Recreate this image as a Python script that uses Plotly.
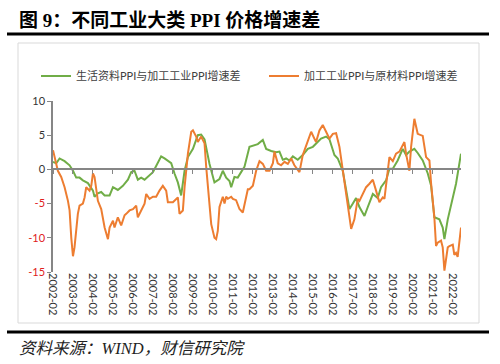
import plotly.graph_objects as go

# ---- data (month offsets from 2002-02, values in percentage points) ----
green_month = [0,2,4,7,10,12,14,16,18,21,24,25,27,29,31,34,36,39,42,45,
               47,49,51,53,55,57,60,62,65,67,69,71,73,75,77,79,81,84,87,89,
               91,94,97,100,102,104,106,107,109,111,113,115,118,120,123,126,128,131,134,136,
               138,140,142,144,147,150,153,156,158,161,164,166,169,171,174,176,178,180,182,184,
               187,189,192,195,197,200,202,204,207,210,212,214,217,219,222,225,227,229,232,234,
               235,237,238,240,242,245]
green_vals = [1.1,0.9,1.6,1.2,0.6,-0.2,-1.2,-1.2,-1.6,-2.0,-3.1,-4.0,-3.5,-3.3,-3.8,-3.8,-2.6,-3.0,-2.4,-1.5,
              -0.4,-0.2,-1.5,-1.2,-1.5,-1.1,-0.4,0.5,1.9,1.6,1.3,0.9,-0.6,-1.9,-3.8,-0.2,1.8,3.0,5.0,5.1,
              4.4,0.8,-1.9,-1.4,-0.2,-1.2,-1.7,-2.6,-1.1,-1.2,-0.4,0.4,3.3,3.5,3.7,4.3,3.0,2.7,2.5,2.6,
              1.4,1.6,1.3,1.9,1.4,2.1,3.0,3.3,3.8,4.5,4.8,4.4,2.1,1.6,-0.2,-3.1,-5.8,-5.0,-4.2,-5.5,
              -6.8,-5.5,-3.6,-4.2,-2.6,-1.6,0.1,0.1,1.3,3.0,2.1,2.6,3.0,2.4,1.3,-0.6,-2.4,-7.0,-7.3,-8.5,
              -10.2,-7.3,-6.3,-4.3,-2.1,2.3]

orange_month = [0,1,3,5,7,9,10,11,12,13,15,16,18,19,20,22,23,24,25,27,
                29,31,33,34,36,37,39,41,43,44,46,48,50,51,53,55,56,58,60,62,
                64,66,68,69,72,75,76,78,79,81,83,84,86,87,89,91,92,94,95,97,
                98,99,100,102,103,104,105,107,108,110,112,114,115,117,118,120,122,124,126,128,
                130,132,133,135,137,139,141,143,145,148,150,152,155,157,158,160,162,164,166,168,
                170,172,174,176,178,179,181,183,184,186,188,190,192,194,196,198,199,201,202,204,
                206,208,211,212,214,215,217,219,222,224,226,227,229,230,231,233,234,235,237,238,
                240,241,242,243,245]
orange_vals = [2.8,1.8,-0.2,-1.1,-2.6,-4.6,-6.0,-10.0,-12.7,-11.4,-6.5,-5.3,-5.0,-4.1,-2.6,-3.1,-2.4,-0.6,-1.1,-4.6,
               -5.8,-8.5,-10.2,-8.5,-7.5,-8.5,-7.0,-8.2,-6.7,-6.5,-6.0,-5.8,-5.3,-7.0,-6.0,-5.0,-3.6,-4.3,-4.0,-4.0,
               -3.1,-2.4,-3.1,-4.8,-4.8,-4.1,-6.5,-6.0,-2.6,2.3,5.5,5.7,4.8,4.0,4.8,3.8,0.4,-4.6,-8.0,-10.0,
               -10.2,-9.0,-5.5,-4.0,-5.0,-4.0,-4.3,-4.0,-4.3,-4.5,-5.8,-6.3,-5.3,-2.9,-2.9,-2.4,-0.2,1.2,0.8,-0.2,
               -0.2,0.9,2.6,0.9,0.6,1.1,0.8,1.6,0.6,-0.4,2.1,3.5,5.5,4.5,4.0,5.7,6.5,5.5,4.5,5.2,
               5.3,3.3,-0.2,-4.1,-7.0,-8.7,-7.3,-4.3,-4.6,-3.6,-2.6,-2.1,-1.5,-3.1,-4.8,-4.1,-4.3,-0.2,1.8,1.2,
               2.3,2.6,4.0,2.3,-0.2,3.3,7.4,5.2,4.9,1.8,1.3,-2.1,-7.0,-11.2,-10.7,-10.4,-11.4,-14.8,-11.4,-11.2,
               -11.0,-12.5,-12.2,-12.8,-8.5]

series_names = ["生活资料PPI与加工工业PPI增速差", "加工工业PPI与原材料PPI增速差"]
tick_years = list(range(2002, 2023))
y_ticks = [-15, -10, -5, 0, 5, 10]

assert len(green_month) == len(green_vals)
assert len(orange_month) == len(orange_vals)


def to_date(m):
    return f"{2002 + (1 + m) // 12}-{(1 + m) % 12 + 1:02d}-01"


green_x = [to_date(m) for m in green_month]
orange_x = [to_date(m) for m in orange_month]

W, H = 500, 364
ML, MR, MT, MB = 53, 39, 101, 92
PW, PH = W - ML - MR, H - MT - MB


def px_x(x):
    return (x - ML) / PW


def px_y(y):
    return (H - MB - y) / PH


GREEN = "#70AD47"
ORANGE = "#ED7D31"
AXIS = "#868686"
FONT = "Lato, Noto Sans CJK SC, sans-serif"

fig = go.Figure()
fig.add_trace(go.Scatter(x=green_x, y=green_vals, mode="lines", name=series_names[0],
                         line=dict(color=GREEN, width=2), legend="legend"))
fig.add_trace(go.Scatter(x=orange_x, y=orange_vals, mode="lines", name=series_names[1],
                         line=dict(color=ORANGE, width=2), legend="legend2"))
# helper trace so the zero-line axis (xaxis2) is rendered
fig.add_trace(go.Scatter(x=[green_x[0]], y=[0], xaxis="x2", mode="lines", showlegend=False,
                         hoverinfo="skip", line=dict(color="rgba(0,0,0,0)")))

x_range = [to_date(0), to_date(245)]
tickvals = [f"{y}-02-01" for y in tick_years]
ticktext = [f"{y}-02" for y in tick_years]

ytext = []
for v in y_ticks:
    if v < 0:
        ytext.append(f'<span style="color:#E0201B">{v}</span>')
    else:
        ytext.append(str(v))

legend_font = dict(family=FONT, size=11, color="#404040")
fig.update_layout(
    width=W, height=H,
    margin=dict(l=ML, r=MR, t=MT, b=MB),
    paper_bgcolor="white", plot_bgcolor="white",
    font=dict(family=FONT, size=11, color="#333333"),
    showlegend=True,
    legend=dict(orientation="h", x=px_x(36), y=px_y(76), xanchor="left", yanchor="middle",
                font=legend_font, bgcolor="rgba(0,0,0,0)"),
    legend2=dict(orientation="h", x=px_x(264), y=px_y(76), xanchor="left", yanchor="middle",
                 font=legend_font, bgcolor="rgba(0,0,0,0)"),
    xaxis=dict(type="date", range=x_range, tickvals=tickvals, ticktext=ticktext,
               tickangle=90, showline=False, ticks="", showgrid=False, zeroline=False,
               tickfont=dict(family=FONT, size=11, color="#333333")),
    xaxis2=dict(type="date", overlaying="x", matches="x", anchor="free", position=0.6,
                showline=True, linecolor=AXIS, linewidth=1.5, ticks="outside", ticklen=4,
                tickwidth=1, tickcolor=AXIS, tickvals=tickvals, showticklabels=False,
                showgrid=False, zeroline=False),
    yaxis=dict(range=[-15, 10], tickvals=y_ticks, ticktext=ytext, showline=True,
               linecolor=AXIS, linewidth=1.5, ticks="outside", ticklen=4, tickcolor=AXIS,
               showgrid=False, zeroline=False,
               tickfont=dict(family=FONT, size=11, color="#333333")),
)

shapes = [
    dict(type="rect", xref="paper", yref="paper", x0=px_x(18), x1=px_x(479),
         y0=px_y(43), y1=px_y(323), line=dict(color="#D9D9D9", width=1), layer="below"),
    dict(type="line", xref="paper", yref="paper", x0=px_x(7), x1=px_x(489),
         y0=px_y(34), y1=px_y(34), line=dict(color="black", width=3)),
    dict(type="line", xref="paper", yref="paper", x0=px_x(7), x1=px_x(489),
         y0=px_y(332), y1=px_y(332), line=dict(color="black", width=3)),
]
fig.update_layout(shapes=shapes)

fig.add_annotation(text="<b>图 9：不同工业大类 PPI 价格增速差</b>", xref="paper", yref="paper",
                   x=px_x(17), y=px_y(20), xanchor="left", yanchor="middle", showarrow=False,
                   font=dict(family="Liberation Serif, Noto Sans CJK SC, serif", size=19, color="black"))
fig.add_annotation(text="<i>资料来源：WIND，财信研究院</i>", xref="paper", yref="paper",
                   x=px_x(17), y=px_y(348), xanchor="left", yanchor="middle", showarrow=False,
                   font=dict(family="Liberation Serif, Noto Sans CJK SC, serif", size=16.5, color="#222222"))

fig.write_html("out.html")
